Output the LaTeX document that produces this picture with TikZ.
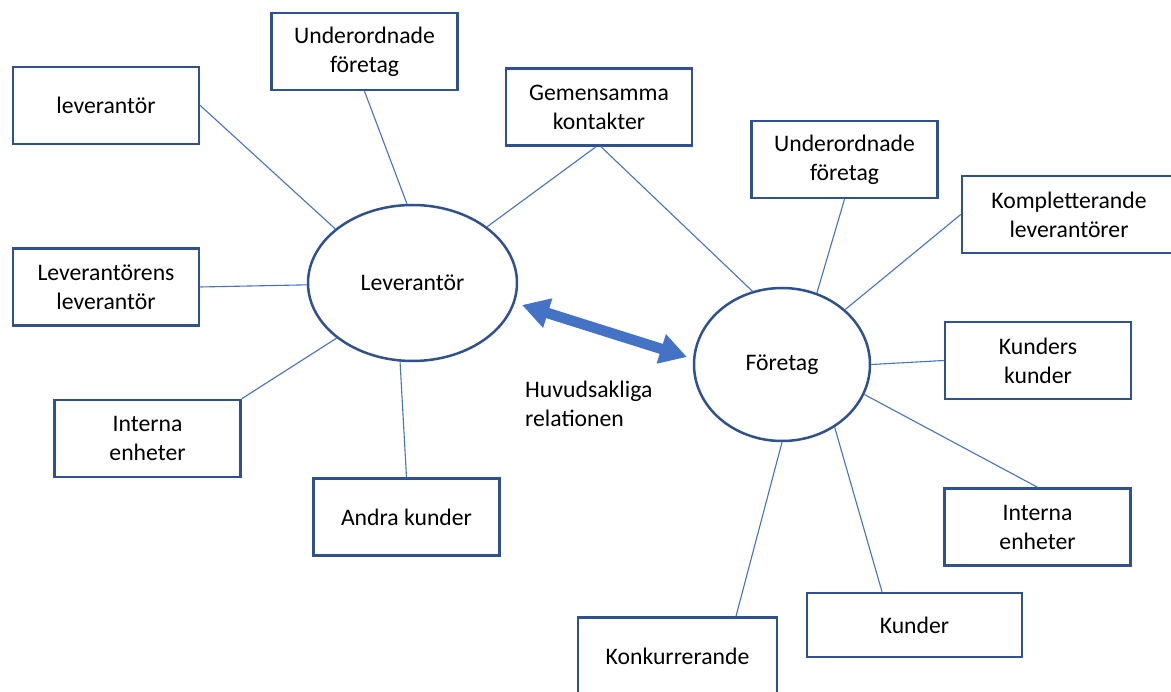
\documentclass[tikz,border=0pt]{standalone}
\usepackage{fontspec}
\setmainfont{Carlito}
\usetikzlibrary{shapes.geometric,arrows.meta}
\definecolor{edgeblue}{HTML}{2F528F}
\definecolor{linkblue}{HTML}{4472C4}
\begin{document}
\begin{tikzpicture}[x=1pt,y=-1pt,
  font=\fontsize{23.7}{29}\selectfont,
  box/.style={draw=edgeblue, line width=2.5pt, fill=white, inner sep=0pt,
    align=center, minimum width=186pt, minimum height=77pt},
  hub/.style={ellipse, draw=edgeblue, line width=2.5pt, fill=white, inner sep=0pt},
  link/.style={draw=linkblue, line width=1.1pt},
  bigarrow/.style={draw=linkblue, line width=10.5pt,
    {Triangle[length=27pt,width=29pt]}-{Triangle[length=27pt,width=29pt]}}]
\useasboundingbox (0,0) rectangle (1171,692);

% central parties
\node[hub, minimum width=209pt, minimum height=156pt] (lev) at (412.5,283) {Leverantör};
\node[hub, minimum width=176pt, minimum height=153pt] (ftg) at (782,364.5) {Företag};

% surrounding actors
\node[box] (levB)  at (106,105.5)  {leverantör};
\node[box] (undL)  at (364.5,51.5) {Underordnade\\företag};
\node[box] (gem)   at (599,107)    {Gemensamma\\kontakter};
\node[box] (levlev) at (106,287)   {Leverantörens\\leverantör};
\node[box] (intL)  at (147.5,438.5) {Interna\\enheter};
\node[box] (andra) at (406.5,517)  {Andra kunder};
\node[box] (undR)  at (844.5,159.5) {Underordnade\\företag};
\node[box, minimum width=214pt] (komp) at (1069,214.5) {Kompletterande\\leverantörer};
\node[box] (kk)    at (1038,360.5) {Kunders\\kunder};
\node[box] (intR)  at (1037.5,527) {Interna\\enheter};
\node[box, minimum width=215pt, minimum height=64pt] (kun) at (914.5,625) {Kunder};
\node[box, minimum width=199pt] (konk) at (677.5,656) {Konkurrerande};

% links to the supplier
\draw[link] (levB.east) -- (lev.145.8);
\draw[link] (undL.south) -- (lev.94.1);
\draw[link] ([xshift=-3pt]gem.south) -- (lev.37.1);
\draw[link] (levlev.east) -- (lev.181);
\draw[link] (intL.north east) -- (lev.216.3);
\draw[link] (andra.north) -- (lev.261.8);

% links to the company
\draw[link] ([xshift=2pt]gem.south) -- (ftg.112.6);
\draw[link] (undR.south) -- (ftg.64.8);
\draw[link] (komp.west) -- (ftg.41.4);
\draw[link] (kk.west) -- (ftg.0);
\draw[link] (intR.north) -- (ftg.340.4);
\draw[link] ([xshift=-32.5pt]kun.north) -- (ftg.310.4);
\draw[link] ([xshift=58.5pt]konk.north) -- (ftg.270);

% main relation
\coordinate (tipL) at (522,305);
\coordinate (tipR) at (687,357);
\draw[bigarrow] (tipL) -- (tipR);
\node[anchor=west, align=left, inner sep=0pt] (rel) at (525,404) {Huvudsakliga\\relationen};
\end{tikzpicture}
\end{document}
